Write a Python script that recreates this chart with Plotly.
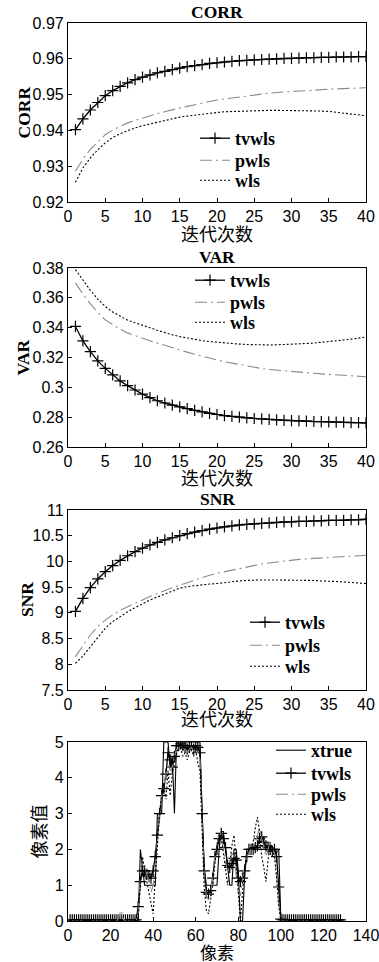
import plotly.graph_objects as go

# ---------------- data ----------------
iters = list(range(1, 41))

corr_tvwls = [0.9402,0.9432,0.9457,0.9478,0.9497,0.9511,0.9523,0.9533,0.9542,0.9549,
              0.9555,0.9561,0.9565,0.9570,0.9574,0.9578,0.9581,0.9584,0.9587,0.9589,
              0.9591,0.9593,0.9595,0.9596,0.9597,0.9598,0.9599,0.9600,0.9601,0.9601,
              0.9602,0.9603,0.9603,0.9604,0.9604,0.9605,0.9605,0.9605,0.9606,0.9606]
corr_pwls = [0.9286,0.9320,0.9347,0.9369,0.9388,0.9401,0.9412,0.9421,0.9428,0.9435,
             0.9441,0.9447,0.9452,0.9458,0.9463,0.9467,0.9472,0.9476,0.9481,0.9485,
             0.9488,0.9491,0.9494,0.9497,0.9500,0.9502,0.9504,0.9506,0.9508,0.9509,
             0.9510,0.9511,0.9513,0.9514,0.9515,0.9516,0.9517,0.9518,0.9518,0.9519]
corr_wls = [0.9255,0.9295,0.9323,0.9346,0.9365,0.9380,0.9391,0.9400,0.9407,0.9413,
            0.9418,0.9423,0.9428,0.9433,0.9437,0.9440,0.9443,0.9446,0.9448,0.9450,
            0.9452,0.9453,0.9454,0.9455,0.9456,0.9456,0.9456,0.9456,0.9456,0.9456,
            0.9455,0.9455,0.9454,0.9454,0.9453,0.9451,0.9449,0.9447,0.9444,0.9441]

var_tvwls = [0.3408,0.3311,0.3239,0.3177,0.3127,0.3083,0.3043,0.3011,0.2982,0.2955,
             0.2931,0.2910,0.2895,0.2881,0.2869,0.2857,0.2846,0.2836,0.2826,0.2818,
             0.2811,0.2805,0.2800,0.2795,0.2791,0.2788,0.2785,0.2782,0.2779,0.2777,
             0.2775,0.2773,0.2771,0.2770,0.2769,0.2767,0.2766,0.2764,0.2763,0.2762]
var_pwls = [0.3700,0.3625,0.3560,0.3502,0.3452,0.3420,0.3390,0.3365,0.3345,0.3329,
            0.3312,0.3296,0.3280,0.3265,0.3250,0.3236,0.3222,0.3208,0.3195,0.3183,
            0.3172,0.3162,0.3152,0.3142,0.3132,0.3126,0.3120,0.3115,0.3110,0.3105,
            0.3101,0.3097,0.3094,0.3090,0.3087,0.3084,0.3080,0.3077,0.3074,0.3071]
var_wls = [0.3789,0.3715,0.3650,0.3592,0.3542,0.3505,0.3475,0.3450,0.3433,0.3419,
           0.3400,0.3382,0.3366,0.3352,0.3340,0.3330,0.3321,0.3313,0.3307,0.3302,
           0.3297,0.3293,0.3290,0.3287,0.3285,0.3284,0.3284,0.3285,0.3286,0.3288,
           0.3291,0.3294,0.3297,0.3301,0.3306,0.3311,0.3317,0.3323,0.3330,0.3337]

snr_tvwls = [9.03,9.28,9.49,9.66,9.80,9.92,10.02,10.11,10.19,10.26,
             10.32,10.37,10.42,10.46,10.50,10.54,10.57,10.60,10.63,10.65,
             10.67,10.69,10.71,10.72,10.73,10.74,10.75,10.76,10.77,10.77,
             10.78,10.78,10.79,10.79,10.80,10.80,10.80,10.81,10.81,10.82]
snr_pwls = [8.15,8.37,8.57,8.73,8.86,8.96,9.05,9.12,9.18,9.25,
            9.32,9.38,9.44,9.49,9.54,9.59,9.64,9.68,9.73,9.77,
            9.80,9.84,9.87,9.90,9.93,9.95,9.97,9.99,10.01,10.03,
            10.04,10.05,10.06,10.07,10.08,10.09,10.10,10.10,10.11,10.12]
snr_wls = [8.02,8.16,8.34,8.53,8.70,8.83,8.93,9.02,9.10,9.18,
           9.25,9.31,9.37,9.43,9.48,9.51,9.53,9.55,9.56,9.57,
           9.59,9.60,9.62,9.63,9.64,9.64,9.64,9.64,9.64,9.64,
           9.64,9.63,9.63,9.62,9.62,9.61,9.60,9.59,9.58,9.57]

pixels = list(range(1, 129))

prof_xtrue = ([0.0] * 33 + [2.0, 1.4] + [1.0] * 6 + [3.0] * 3 + [5.0] * 3 +
              [4.3, 4.6, 3.0] + [5.0] * 12 + [3.0, 1.5] + [1.0] * 6 +
              [2.0, 2.5, 2.5, 2.0, 1.5, 1.0, 1.0, 2.0, 2.0, 1.4, 0.0, 0.0, 1.3] +
              [2.0] * 16 + [0.0] * 29)

prof_tvwls = ([0.03] * 32 +
              [0.4, 1.1, 1.4, 1.4, 1.3, 1.25, 1.2, 1.4, 1.8, 2.4,
               3.0, 3.5, 3.7, 4.1, 4.7, 4.5, 4.3, 4.6, 4.9, 4.9,
               4.95, 4.9, 4.85, 4.8, 4.85, 4.9, 4.8, 4.9, 4.85, 4.7,
               3.0, 1.4, 0.8, 0.75, 0.85, 1.2, 1.8, 2.0, 2.3, 2.45,
               2.3, 2.05, 1.55, 1.5, 1.6, 1.75, 1.7, 1.2, 1.1, 1.2,
               1.4, 1.8, 2.0, 2.0, 2.0, 2.05, 2.1, 2.3, 2.35, 2.2,
               2.1, 2.05, 2.0, 1.95, 2.0, 1.8, 0.95, 0.05] +
              [0.03] * 28)

prof_pwls = ([0.0] * 23 + [0.15, 0.3, 0.05] + [0.0] * 6 +
             [0.2, 1.2, 1.7, 1.5, 1.3, 1.1, 0.8, 1.0, 1.5, 2.4,
              3.0, 3.5, 3.8, 4.0, 4.4, 4.2, 4.3, 4.6, 4.8, 4.85,
              4.8, 4.75, 4.8, 4.7, 4.8, 4.85, 4.75, 4.8, 4.7, 4.5,
              2.8, 1.2, 0.7, 0.6, 0.8, 1.2, 1.8, 2.2, 2.5, 2.4,
              2.0, 1.6, 1.4, 1.6, 1.9, 1.8, 1.3, 0.8, 0.7, 1.2,
              1.6, 1.8, 1.9, 2.0, 2.1, 2.2, 2.4, 2.6, 2.3, 2.0,
              1.8, 2.0, 2.2, 2.0, 1.9, 1.3, 0.5, 0.0] +
             [0.0] * 28)

prof_wls = ([0.01] * 32 +
            [0.1, 1.0, 1.8, 1.4, 1.1, 0.8, 0.4, 0.2, 1.2, 2.2,
             3.0, 3.5, 3.8, 3.4, 4.2, 3.5, 4.1, 4.4, 4.7, 4.9,
             4.8, 4.6, 4.7, 4.5, 4.7, 4.8, 4.6, 4.8, 4.4, 4.2,
             2.6, 0.9, 0.3, 0.2, 0.6, 1.0, 1.6, 2.1, 2.4, 2.3,
             1.9, 1.4, 1.0, 1.6, 2.1, 2.4, 1.6, 0.6, 0.0, 0.8,
             1.5, 1.9, 2.0, 2.0, 2.2, 2.6, 2.9, 2.5, 1.8, 1.5,
             1.1, 1.7, 2.2, 2.0, 1.8, 1.2, 0.4, 0.0] +
            [0.01] * 28)

iter_ticks = [0, 5, 10, 15, 20, 25, 30, 35, 40]
corr_ticks = [0.92, 0.93, 0.94, 0.95, 0.96, 0.97]
corr_ticklabels = ["0.92", "0.93", "0.94", "0.95", "0.96", "0.97"]
var_ticks = [0.26, 0.28, 0.30, 0.32, 0.34, 0.36, 0.38]
var_ticklabels = ["0.26", "0.28", "0.3", "0.32", "0.34", "0.36", "0.38"]
snr_ticks = [7.5, 8, 8.5, 9, 9.5, 10, 10.5, 11]
snr_ticklabels = ["7.5", "8", "8.5", "9", "9.5", "10", "10.5", "11"]
pix_ticks = [0, 20, 40, 60, 80, 100, 120, 140]
val_ticks = [0, 1, 2, 3, 4, 5]

panel_titles = ["CORR", "VAR", "SNR"]
iter_xlabel = "迭代次数"
pix_xlabel = "像素"
pix_ylabel = "像素值"

# ---------------- figure ----------------
W, H = 379, 962
PX0, PX1 = 68, 366
panels_px = [(23, 202), (268, 447), (510, 690), (742, 921)]

def ydom(top, bot):
    return [1 - bot / H, 1 - top / H]

xdom = [PX0 / W, PX1 / W]
SERIF = "Liberation Serif"
SANS = "Liberation Sans"
CJK = "Noto Sans CJK SC"

fig = go.Figure()

tv_style = dict(mode="lines+markers", line=dict(color="black", width=1.3),
                marker=dict(symbol="cross-thin", size=8, color="black",
                            line=dict(width=1.2, color="black")))
pw_style = dict(mode="lines", line=dict(color="#8a8a8a", width=1.1, dash="12px,4px,2px,4px"))
wl_style = dict(mode="lines", line=dict(color="black", width=1.1, dash="2px,2px"))

# legend rows: (text-left x, row-center y) in pixels
legend_rows = [
    [(237, 141), (237, 163), (237, 183)],
    [(232, 283), (232, 305), (232, 325)],
    [(287, 625), (287, 648), (287, 669)],
    [(313, 753), (313, 776), (313, 797), (313, 817)],
]

leg_id = [0]
def next_legend():
    leg_id[0] += 1
    return "legend" if leg_id[0] == 1 else "legend%d" % leg_id[0]

legend_names = []
sets = [(corr_tvwls, corr_pwls, corr_wls), (var_tvwls, var_pwls, var_wls),
        (snr_tvwls, snr_pwls, snr_wls)]
for i, (tv, pw, wl) in enumerate(sets):
    ax = "" if i == 0 else str(i + 1)
    for name, ys, st, pos in zip(["tvwls", "pwls", "wls"], [tv, pw, wl],
                                 [tv_style, pw_style, wl_style], legend_rows[i]):
        lg = next_legend()
        legend_names.append((lg, pos))
        fig.add_trace(go.Scatter(x=iters, y=ys, name=name, xaxis="x" + ax, yaxis="y" + ax,
                                 legend=lg, **st))

xt_style = dict(mode="lines", line=dict(color="black", width=1.1))
for name, ys, st, pos in zip(["xtrue", "tvwls", "pwls", "wls"],
                             [prof_xtrue, prof_tvwls, prof_pwls, prof_wls],
                             [xt_style, tv_style, pw_style, wl_style], legend_rows[3]):
    lg = next_legend()
    legend_names.append((lg, pos))
    fig.add_trace(go.Scatter(x=pixels, y=ys, name=name, xaxis="x4", yaxis="y4",
                             legend=lg, **st))

axis_common = dict(showline=True, mirror=True, linecolor="black", linewidth=1.2,
                   ticks="inside", ticklen=4, tickcolor="black", showgrid=False,
                   zeroline=False, automargin=False,
                   tickfont=dict(family=SANS, size=16, color="black"))

layout = dict(width=W, height=H, margin=dict(l=0, r=0, t=0, b=0),
              paper_bgcolor="white", plot_bgcolor="white", showlegend=True)

yspecs = [([0.92, 0.97], corr_ticks, corr_ticklabels),
          ([0.26, 0.38], var_ticks, var_ticklabels),
          ([7.5, 11], snr_ticks, snr_ticklabels)]
for i in range(3):
    k = "" if i == 0 else str(i + 1)
    layout["xaxis" + k] = dict(domain=xdom, range=[0, 40], tickvals=iter_ticks,
                               anchor="y" + k, ticklabeloverflow="allow", **axis_common)
    rng, tv, tt = yspecs[i]
    layout["yaxis" + k] = dict(domain=ydom(*panels_px[i]), range=rng, tickvals=tv,
                               ticktext=tt, anchor="x" + k, **axis_common)
layout["xaxis4"] = dict(domain=xdom, range=[0, 140], tickvals=pix_ticks, anchor="y4",
                        ticklabeloverflow="allow", **axis_common)
layout["yaxis4"] = dict(domain=ydom(*panels_px[3]), range=[0, 5], tickvals=val_ticks,
                        anchor="x4", **axis_common)

TEXT_DX = 42   # legend box left -> text left
ROW_DY = 21    # legend box top -> row centre
for lg, (tx, cy) in legend_names:
    layout[lg] = dict(x=(tx - TEXT_DX) / W, y=1 - (cy - ROW_DY) / H,
                      xanchor="left", yanchor="top", xref="paper", yref="paper",
                      bgcolor="rgba(0,0,0,0)", borderwidth=0,
                      font=dict(family=SERIF, size=18, color="black", weight="bold"))

fig.update_layout(**layout)

cx = (PX0 + PX1) / 2 / W
annots = []
title_y = [12, 257, 499]
for t, yy in zip(panel_titles, title_y):
    annots.append(dict(text="<b>%s</b>" % t, x=cx, y=1 - yy / H, xref="paper", yref="paper",
                       xanchor="center", yanchor="middle", showarrow=False,
                       font=dict(family=SERIF, size=17.5, color="black")))
ylab_x = [23, 22, 27]
for t, xx, (top, bot) in zip(panel_titles, ylab_x, panels_px[:3]):
    annots.append(dict(text="<b>%s</b>" % t, x=xx / W, y=1 - (top + bot) / 2 / H,
                       xref="paper", yref="paper", xanchor="center", yanchor="middle",
                       textangle=-90, showarrow=False,
                       font=dict(family=SERIF, size=17.5, color="black")))
for yy in [233, 477, 718]:
    annots.append(dict(text=iter_xlabel, x=cx, y=1 - yy / H, xref="paper", yref="paper",
                       xanchor="center", yanchor="middle", showarrow=False,
                       font=dict(family=CJK, size=18, color="black")))
annots.append(dict(text=pix_xlabel, x=cx, y=1 - 951 / H, xref="paper", yref="paper",
                   xanchor="center", yanchor="middle", showarrow=False,
                   font=dict(family=CJK, size=17, color="black")))
annots.append(dict(text=pix_ylabel, x=37 / W, y=1 - (742 + 921) / 2 / H, xref="paper",
                   yref="paper", xanchor="center", yanchor="middle", textangle=-90,
                   showarrow=False, font=dict(family=CJK, size=18, color="black")))
fig.update_layout(annotations=annots)

fig.write_html("out.html", config={"displayModeBar": False},
               post_script="document.body.style.margin='0';document.body.style.overflow='hidden';")
